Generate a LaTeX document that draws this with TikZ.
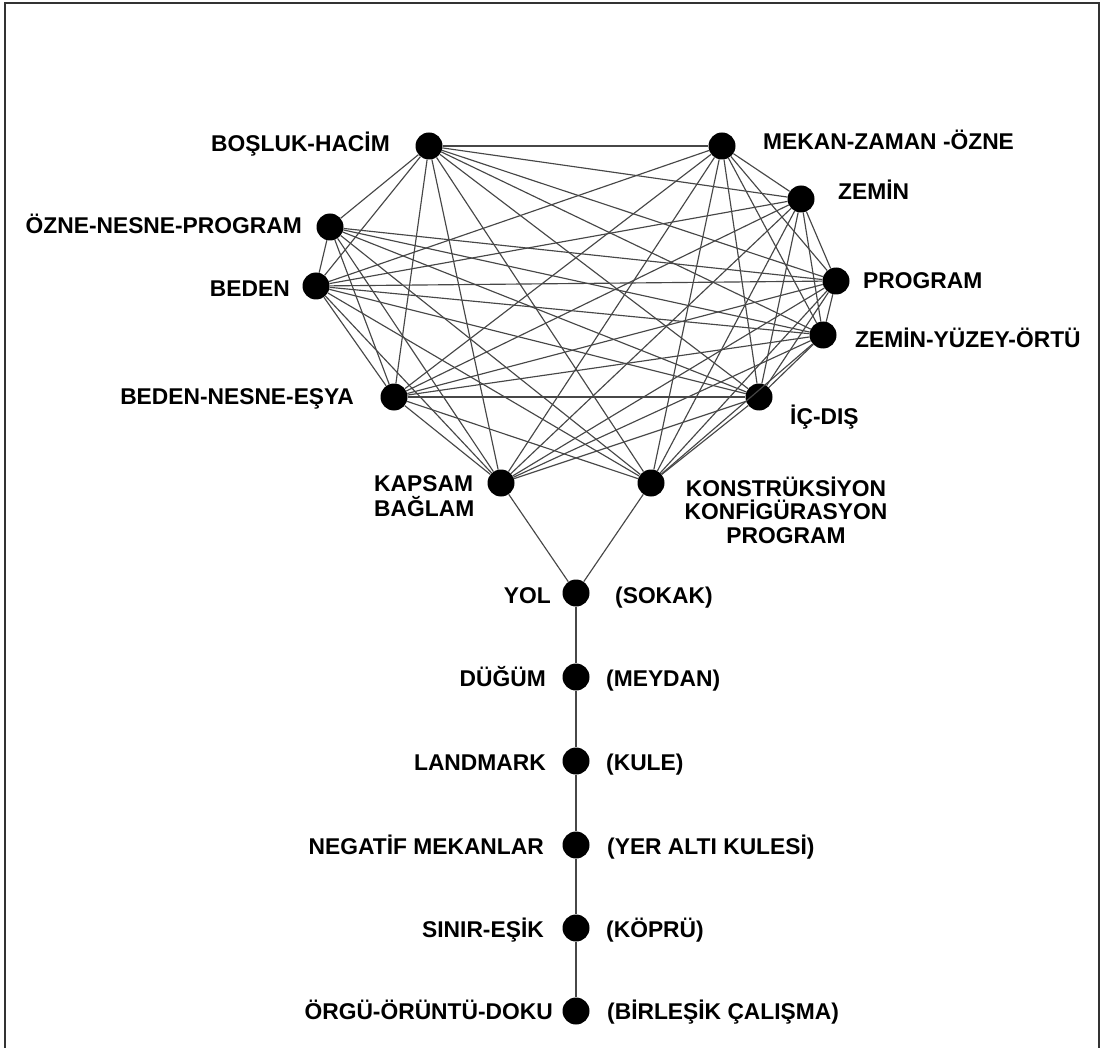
\documentclass[tikz,border=0pt]{standalone}
\usepackage{fontspec}
\setmainfont{Liberation Sans}
\begin{document}
\begin{tikzpicture}[x=1pt,y=-1pt,
  dot/.style={circle,fill=black,draw=none,minimum size=27pt,inner sep=0pt},
  edge/.style={draw=black!72,line width=1.15pt},
  lab/.style={font=\fontsize{22.8}{25}\selectfont\bfseries,inner sep=0pt,text height=16.3pt,text depth=0pt},
  mlab/.style={font=\fontsize{22.8}{25}\selectfont\bfseries,inner sep=0pt},
  frame/.style={draw=black!80,line width=2pt}]
\useasboundingbox (0,0) rectangle (1105,1048);
% frame
\coordinate (f1) at (5,1048);
\coordinate (f2) at (5,3);
\coordinate (f3) at (1099,3);
\coordinate (f4) at (1099,1048);
\draw[frame] (f1) -- (f2) -- (f3) -- (f4);
% network nodes
\node[dot] (B) at (429,146) {};
\node[dot] (M) at (722,146) {};
\node[dot] (Z) at (801,199) {};
\node[dot] (O) at (330,227) {};
\node[dot] (D) at (316,286) {};
\node[dot] (P) at (836,281) {};
\node[dot] (Y) at (823,335) {};
\node[dot] (E) at (394,397) {};
\node[dot] (I) at (759,397) {};
\node[dot] (K) at (501,483) {};
\node[dot] (C) at (651,483) {};
% chain nodes
\node[dot] (y1) at (576,593) {};
\node[dot] (y2) at (576,677) {};
\node[dot] (y3) at (576,761) {};
\node[dot] (y4) at (576,845) {};
\node[dot] (y5) at (576,928) {};
\node[dot] (y6) at (576,1011) {};
% edges
\foreach \a/\b in {B/M,B/Z,B/O,B/D,B/P,B/Y,B/E,B/I,B/K,B/C,
  M/Z,M/D,M/P,M/Y,M/E,M/I,M/K,M/C,
  Z/D,Z/P,Z/Y,Z/E,Z/I,Z/K,Z/C,
  O/D,O/P,O/Y,O/E,O/I,O/K,O/C,
  D/P,D/Y,D/E,D/I,D/K,D/C,
  P/Y,P/E,P/I,P/K,P/C,
  Y/E,Y/I,Y/K,Y/C,
  E/I,E/K,E/C,
  I/K,I/C,
  K/y1,C/y1,y1/y2,y2/y3,y3/y4,y4/y5,y5/y6}
  \draw[edge] (\a) -- (\b);
% labels
\node[lab,anchor=east] (lB) at (390,143) {BOŞLUK-HACİM};
\node[lab,anchor=west] (lM) at (763,141) {MEKAN-ZAMAN -ÖZNE};
\node[lab,anchor=west] (lZ) at (838,191) {ZEMİN};
\node[lab,anchor=east] (lO) at (302,225) {ÖZNE-NESNE-PROGRAM};
\node[lab,anchor=east] (lD) at (290,288) {BEDEN};
\node[lab,anchor=west] (lP) at (863,280) {PROGRAM};
\node[lab,anchor=west] (lY) at (855,339) {ZEMİN-YÜZEY-ÖRTÜ};
\node[lab,anchor=east] (lE) at (354,396) {BEDEN-NESNE-EŞYA};
\node[lab,anchor=west] (lI) at (790,416) {İÇ-DIŞ};
\node[mlab,align=left,anchor=north west] (lK) at (374,468) {\rule{0pt}{23pt}KAPSAM\\BAĞLAM};
\node[mlab,align=center,anchor=north,font=\fontsize{22.8}{23.5}\selectfont\bfseries] (lC) at (786,473) {\rule{0pt}{23pt}KONSTRÜKSİYON\\KONFİGÜRASYON\\PROGRAM};
\node[lab,anchor=east] (l1) at (551,595) {YOL};
\node[lab,anchor=west] (r1) at (615,595) {(SOKAK)};
\node[lab,anchor=east] (l2) at (546,678) {DÜĞÜM};
\node[lab,anchor=west] (r2) at (606,678) {(MEYDAN)};
\node[lab,anchor=east] (l3) at (546,762) {LANDMARK};
\node[lab,anchor=west] (r3) at (606,762) {(KULE)};
\node[lab,anchor=east] (l4) at (544,846) {NEGATİF MEKANLAR};
\node[lab,anchor=west] (r4) at (607,846) {(YER ALTI KULESİ)};
\node[lab,anchor=east] (l5) at (544,929) {SINIR-EŞİK};
\node[lab,anchor=west] (r5) at (606,929) {(KÖPRÜ)};
\node[lab,anchor=east] (l6) at (553,1011) {ÖRGÜ-ÖRÜNTÜ-DOKU};
\node[lab,anchor=west] (r6) at (607,1011) {(BİRLEŞİK ÇALIŞMA)};
\end{tikzpicture}
\end{document}
